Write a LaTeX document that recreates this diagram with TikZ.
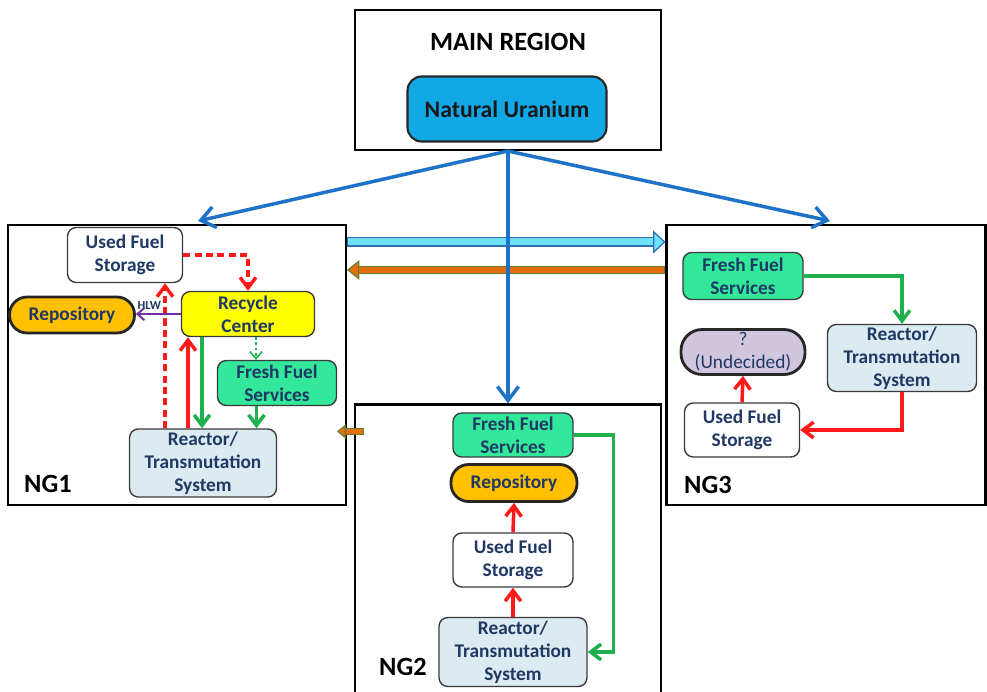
\documentclass[tikz,border=0pt]{standalone}
\usepackage{fontspec}
\setmainfont{Carlito}
\usepackage{xcolor}
\usetikzlibrary{
    arrows.meta,
    positioning,
    calc
}

\definecolor{navytext}{HTML}{1F3864}
\definecolor{boxline}{HTML}{3A3A3A}
\definecolor{uranium}{HTML}{12A8E6}
\definecolor{freshgreen}{HTML}{33E89A}
\definecolor{recycleyellow}{HTML}{FFFF00}
\definecolor{repoorange}{HTML}{FFC000}
\definecolor{reactorblue}{HTML}{DCEBF2}
\definecolor{undecided}{HTML}{D2C6DF}
\definecolor{flowblue}{HTML}{1E73C8}
\definecolor{flowgreen}{HTML}{1FB14E}
\definecolor{flowred}{HTML}{FF1A1A}
\definecolor{hlwpurple}{HTML}{7030A0}
\definecolor{fatcyan}{HTML}{6EE0FA}
\definecolor{fatblueedge}{HTML}{2F6FB5}
\definecolor{fatorange}{HTML}{E2700F}
\definecolor{fatorangeedge}{HTML}{6A7A2C}

\begin{document}
\begin{tikzpicture}[
    x=0.02cm, y=-0.02cm,
    font=\bfseries\fontsize{11}{13}\selectfont,
    box/.style={
        rectangle,
        rounded corners=5pt,
        draw=boxline,
        line width=0.8pt,
        align=center,
        text=navytext,
        inner sep=1pt
    },
    pill/.style={
        box,
        line width=1.6pt,
        draw=black!85
    },
    region/.style={
        rectangle,
        draw=black,
        line width=1.2pt
    },
    tag/.style={
        font=\bfseries\fontsize{15}{18}\selectfont,
        anchor=base west
    },
    bluearrow/.style={
        -{Straight Barb[length=8pt,width=12pt]},
        line width=2pt,
        draw=flowblue
    },
    redarrow/.style={
        -{Straight Barb[length=6pt,width=9pt]},
        line width=2pt,
        draw=flowred
    },
    greenarrow/.style={
        -{Straight Barb[length=6pt,width=9pt]},
        line width=2pt,
        draw=flowgreen
    },
    note/.style={
        font=\bfseries\fontsize{7}{8}\selectfont,
        text=navytext,
        inner sep=1pt
    }
]
\clip (0,0) rectangle (987,692);
\fill[white] (0,0) rectangle (987,692);

% =========================================================
% Regions
% =========================================================
\node[region, minimum width=6.12cm, minimum height=2.8cm] (main) at (508,80) {};
\node[font=\bfseries\fontsize{15}{18}\selectfont] (maintitle) at (508,42) {MAIN REGION};
\node[box, rounded corners=8pt, fill=uranium, draw=black!85, line width=1.2pt,
    text=black!90, font=\bfseries\fontsize{13.5}{16}\selectfont,
    minimum width=3.98cm, minimum height=1.3cm] (natu) at (507,109) {Natural Uranium};

\node[region, minimum width=6.76cm, minimum height=5.6cm] (ng1) at (177,365) {};
\node[region, minimum width=6.12cm, minimum height=6.3cm] (ng2) at (508,562) {};
\node[region, minimum width=6.38cm, minimum height=5.6cm] (ng3) at (826,365) {};

\node[tag] (ng1tag) at (18,492) {NG1};
\node[tag] (ng2tag) at (373,675) {NG2};
\node[tag] (ng3tag) at (678,493) {NG3};

% =========================================================
% Transfers between regions
% =========================================================
\draw[line width=5.5pt, draw=fatblueedge,
    -{Triangle[length=7pt,width=13pt,line width=0.7pt,fill=fatcyan]}]
    ([yshift=-0.36cm]ng1.north east) -- ([yshift=-0.36cm]ng3.north west);
\draw[line width=4pt, draw=fatcyan, shorten >=7pt, shorten <=0.7pt]
    ([yshift=-0.36cm]ng1.north east) -- ([yshift=-0.36cm]ng3.north west);

\draw[line width=5pt, draw=fatorangeedge,
    -{Triangle[length=7pt,width=11pt,line width=0.7pt,fill=fatorange]}]
    ([yshift=-0.92cm]ng3.north west) -- ([yshift=-0.92cm]ng1.north east);
\draw[line width=3.6pt, draw=fatorange, shorten >=7pt, shorten <=0.7pt]
    ([yshift=-0.92cm]ng3.north west) -- ([yshift=-0.92cm]ng1.north east);

\draw[line width=3.6pt, draw=fatorangeedge,
    -{Triangle[length=5pt,width=8pt,line width=0.6pt,fill=fatorange]}]
    ([xshift=0.2cm,yshift=-0.56cm]ng2.north west) -- +(-0.54cm,0);
\draw[line width=2.4pt, draw=fatorange, shorten >=5pt, shorten <=0.6pt]
    ([xshift=0.2cm,yshift=-0.56cm]ng2.north west) -- +(-0.54cm,0);

\draw[bluearrow] (main.south) -- ([xshift=0.42cm,yshift=0.06cm]ng1.north);
\draw[bluearrow] (main.south) -- (ng2.north);
\draw[bluearrow] (main.south) -- ([xshift=0.08cm,yshift=0.06cm]ng3.north);

% =========================================================
% NG1
% =========================================================
\node[box, fill=white, minimum width=2.3cm, minimum height=1.1cm] (uf1) at (125,255) {Used Fuel\\Storage};
\node[box, fill=recycleyellow, minimum width=2.66cm, minimum height=0.9cm] (rc1) at (248,314) {Recycle\\Center};
\node[pill, rounded corners=10pt, fill=repoorange, minimum width=2.5cm, minimum height=0.72cm] (rep1) at (72,315) {Repository};
\node[box, fill=freshgreen, minimum width=2.38cm, minimum height=0.9cm] (ff1) at (277,383) {Fresh Fuel\\Services};
\node[box, fill=reactorblue, minimum width=2.94cm, minimum height=1.36cm] (rt1) at (203,463) {Reactor/\\Transmutation\\System};

\draw[redarrow, dash pattern=on 4pt off 2.5pt] (uf1.east) -| (rc1.north);
\draw[redarrow, dash pattern=on 4pt off 2.5pt] ([xshift=-0.76cm]rt1.north) -- ([xshift=-0.76cm]rt1.north |- uf1.south);
\draw[redarrow] ([xshift=-0.3cm]rt1.north) -- ([xshift=-0.3cm]rt1.north |- rc1.south);
\draw[greenarrow] ([xshift=-0.92cm]rc1.south) -- ([xshift=-0.92cm]rc1.south |- rt1.north);
\draw[-{Straight Barb[length=4pt,width=7pt]}, line width=0.9pt, draw=flowgreen, dash pattern=on 1.5pt off 1.5pt]
    ([xshift=0.16cm]rc1.south) -- ([xshift=0.16cm]rc1.south |- ff1.north);
\draw[greenarrow] ([xshift=-0.41cm]ff1.south) -- ([xshift=-0.41cm]ff1.south |- rt1.north);
\draw[-{Straight Barb[length=4pt,width=7pt]}, line width=1.1pt, draw=hlwpurple]
    (rc1.west) -- node[note, pos=0.7, above=1pt] {HLW} (rc1.west -| rep1.east);

% =========================================================
% NG2
% =========================================================
\node[box, fill=freshgreen, minimum width=2.4cm, minimum height=0.88cm] (ff2) at (513,435) {Fresh Fuel\\Services};
\node[pill, rounded corners=10pt, fill=repoorange, minimum width=2.52cm, minimum height=0.74cm] (rep2) at (514,483) {Repository};
\node[box, fill=white, minimum width=2.4cm, minimum height=1.08cm] (uf2) at (513,560) {Used Fuel\\Storage};
\node[box, fill=reactorblue, minimum width=2.96cm, minimum height=1.38cm] (rt2) at (513,652) {Reactor/\\Transmutation\\System};

\draw[redarrow] (uf2.north) -- (rep2.south);
\draw[redarrow] (rt2.north) -- (uf2.south);
\draw[greenarrow] (ff2.east) -- ++(0.8cm,0) |- (rt2.east);

% =========================================================
% NG3
% =========================================================
\node[box, fill=freshgreen, minimum width=2.4cm, minimum height=0.94cm] (ff3) at (743,276) {Fresh Fuel\\Services};
\node[pill, rounded corners=12pt, fill=undecided, font=\fontsize{11}{13}\selectfont, minimum width=2.48cm, minimum height=0.9cm] (und3) at (743,352) {?\\(Undecided)};
\node[box, fill=white, minimum width=2.3cm, minimum height=1.08cm] (uf3) at (742,430) {Used Fuel\\Storage};
\node[box, fill=reactorblue, minimum width=2.98cm, minimum height=1.34cm] (rt3) at (902,358) {Reactor/\\Transmutation\\System};

\draw[greenarrow] (ff3.east) -| (rt3.north);
\draw[redarrow] (rt3.south) |- (uf3.east);
\draw[redarrow] (uf3.north) -- (und3.south);

\end{tikzpicture}
\end{document}
